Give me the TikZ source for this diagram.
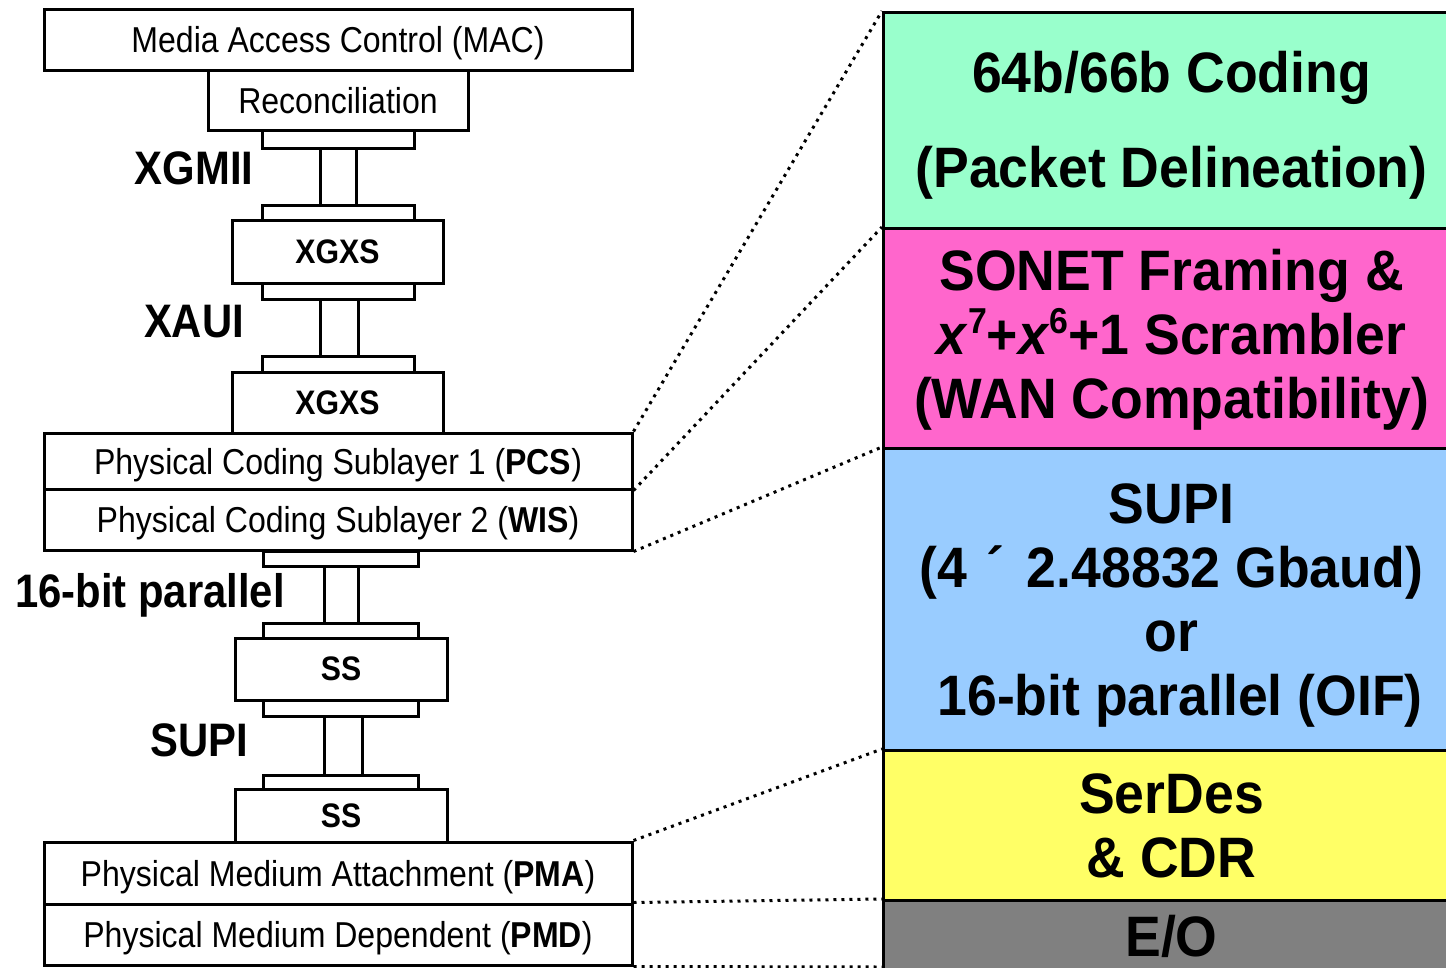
\documentclass[tikz,border=0pt]{standalone}
\usepackage{fontspec}
\setmainfont{Liberation Sans}[FakeStretch=0.89]
\newfontfamily\rfont{Liberation Sans}[FakeStretch=0.94]
\definecolor{cgreen}{HTML}{99FFCC}
\definecolor{cpink}{HTML}{FF66CC}
\definecolor{cblue}{HTML}{99CCFF}
\definecolor{cyellow}{HTML}{FFFF66}
\definecolor{cgrey}{HTML}{808080}
\newcommand{\supr}[1]{\raisebox{0.36em}{\fontsize{36}{36}\selectfont #1}}
\begin{document}
\begin{tikzpicture}[x=1pt,y=-1pt,
  box/.style={draw, line width=3pt, rectangle, inner sep=0pt, fill=white, text depth=0pt, font=\fontsize{36}{40}\selectfont},
  flange/.style={draw, line width=3pt, rectangle, inner sep=0pt, fill=white},
  bx/.style={box, font=\bfseries\fontsize{34}{36}\selectfont},
  lbl/.style={font=\bfseries\fontsize{47}{50}\selectfont, inner sep=0pt},
  layer/.style={draw, line width=3pt, rectangle, inner sep=0pt, minimum width=576pt, anchor=north west},
  ltext/.style={inner sep=0pt, align=center, font=\rfont\bfseries\fontsize{57}{64}\selectfont},
  link/.style={line width=3pt, dash pattern=on 3pt off 5pt},
  wire/.style={line width=3pt}]
\useasboundingbox (0,0) rectangle (1446,967);
\clip (0,0) rectangle (1446,967);

% right-hand layers
\node[layer, fill=cgreen, minimum height=216pt] (green) at (882,11) {};
\node[layer, fill=cpink, minimum height=220pt] (pink) at (882,227) {};
\node[layer, fill=cblue, minimum height=302pt] (blue) at (882,447) {};
\node[layer, fill=cyellow, minimum height=150pt] (yellow) at (882,749) {};
\node[layer, fill=cgrey, minimum height=81pt] (grey) at (882,899) {};
\coordinate (gbot) at (882,967);
\node[ltext, font=\rfont\bfseries\fontsize{57}{95}\selectfont, yshift=-5pt] (tgreen) at (green.center) {64b/66b Coding\\(Packet Delineation)};
\node[ltext, yshift=-1pt] (tpink) at (pink.center) {SONET Framing \&\\\textit{x}\supr{7}+\textit{x}\supr{6}+1 Scrambler\\(WAN Compatibility)};
\node[ltext, yshift=-6pt] (tblue) at (blue.center) {SUPI\\(4\hspace{0.33em}´\hspace{0.4em}2.48832 Gbaud)\\or\\\hspace{0.3em}16-bit parallel (OIF)};
\node[ltext] (tyellow) at (yellow.center) {SerDes\\\& CDR};
\node[ltext, yshift=4.5pt] (tgrey) at (grey.center) {E/O};

% flanges and wires
\node[flange, minimum width=152pt, minimum height=18pt] (f1a) at (338,139) {};
\node[flange, minimum width=152pt, minimum height=16pt] (f1b) at (338,213) {};
\node[flange, minimum width=152pt, minimum height=16pt] (f2a) at (338,291) {};
\node[flange, minimum width=152pt, minimum height=16pt] (f2b) at (338,364) {};
\node[flange, minimum width=155pt, minimum height=15pt] (f3a) at (340.5,558.5) {};
\node[flange, minimum width=155pt, minimum height=15pt] (f3b) at (340.5,630.5) {};
\node[flange, minimum width=155pt, minimum height=16pt] (f4a) at (340.5,708) {};
\node[flange, minimum width=155pt, minimum height=14pt] (f4b) at (340.5,782) {};
\draw[wire] ([xshift=-18pt]f1a.south) -- ([xshift=-18pt]f1b.north);
\draw[wire] ([xshift=18pt]f1a.south) -- ([xshift=18pt]f1b.north);
\draw[wire] ([xshift=-18pt]f2a.south) -- ([xshift=-18pt]f2b.north);
\draw[wire] ([xshift=20pt]f2a.south) -- ([xshift=20pt]f2b.north);
\draw[wire] ([xshift=-16.5pt]f3a.south) -- ([xshift=-16.5pt]f3b.north);
\draw[wire] ([xshift=17.5pt]f3a.south) -- ([xshift=17.5pt]f3b.north);
\draw[wire] ([xshift=-16.5pt]f4a.south) -- ([xshift=-16.5pt]f4b.north);
\draw[wire] ([xshift=21.5pt]f4a.south) -- ([xshift=21.5pt]f4b.north);

% left stack
\node[box, minimum width=588pt, minimum height=61pt] (mac) at (338,39.5) {Media Access Control (MAC)};
\node[box, minimum width=260pt, minimum height=60pt] (rec) at (338,100) {Reconciliation};
\node[bx, minimum width=211pt, minimum height=63pt] (xgxs1) at (337.5,251.5) {XGXS};
\node[bx, minimum width=211pt, minimum height=62pt] (xgxs2) at (337.5,403) {XGXS};
\node[box, minimum width=588pt, minimum height=56pt] (pcs) at (338,461) {Physical Coding Sublayer 1 (\textbf{PCS})};
\node[box, minimum width=588pt, minimum height=61pt] (wis) at (338,519.5) {Physical Coding Sublayer 2 (\textbf{WIS})};
\node[bx, minimum width=212pt, minimum height=62pt] (ss1) at (341,669) {SS};
\node[bx, minimum width=212pt, minimum height=53pt] (ss2) at (341,815.5) {SS};
\node[box, minimum width=588pt, minimum height=62pt] (pma) at (338,873) {Physical Medium Attachment (\textbf{PMA})};
\node[box, minimum width=588pt, minimum height=61pt] (pmd) at (338,934.5) {Physical Medium Dependent (\textbf{PMD})};

% interface labels
\node[lbl] (lxgmii) at (194,168) {XGMII};
\node[lbl] (lxaui) at (194,322) {XAUI};
\node[lbl] (lpar) at (150,595) {16-bit parallel};
\node[lbl] (lsupi) at (199,740) {SUPI};

% dotted zoom lines
\draw[link] (pcs.north east) -- (green.north west);
\draw[link] (pcs.south east) -- (pink.north west);
\draw[link] (wis.south east) -- (blue.north west);
\draw[link] (pma.north east) -- (yellow.north west);
\draw[link] (pmd.north east) -- (grey.north west);
\draw[link] (pmd.south east) -- (gbot);
\end{tikzpicture}
\end{document}
